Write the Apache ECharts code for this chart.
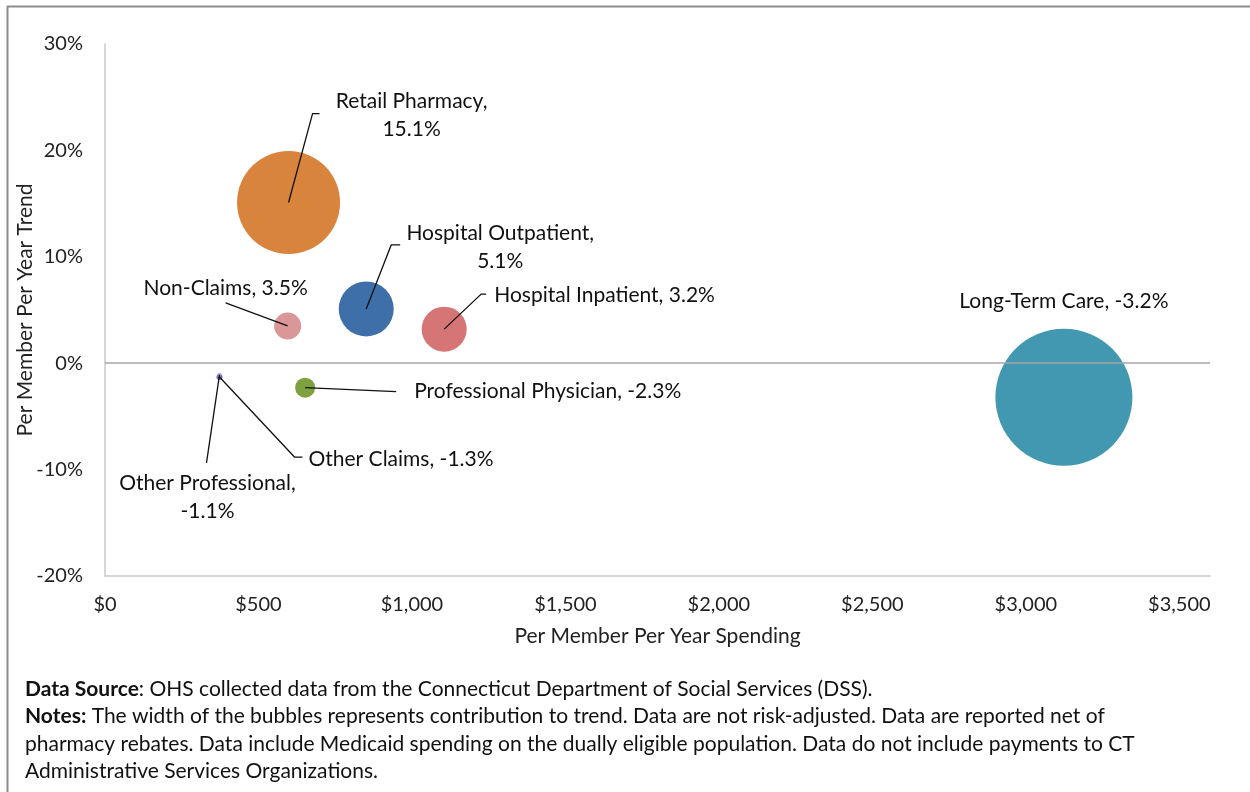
<!DOCTYPE html>
<html>
<head>
<meta charset="utf-8">
<script src="https://cdn.jsdelivr.net/npm/echarts@6/dist/echarts.min.js"></script>
<style>
  html, body { margin: 0; padding: 0; background: #fff; }
  #main { width: 1250px; height: 792px; }
</style>
</head>
<body>
<div id="main"></div>
<script>
// 数据
var categories = ["Retail Pharmacy", "Hospital Outpatient", "Hospital Inpatient", "Non-Claims",
  "Professional Physician", "Other Claims", "Other Professional", "Long-Term Care"];
var spending = [598, 851, 1105, 595, 652, 373, 373, 3124];      // PMPY spending ($)
var trend = [15.1, 5.1, 3.2, 3.5, -2.3, -1.3, -1.1, -3.2];       // PMPY trend (%)
var contribution = [103, 55, 45, 27, 20, 6, 4, 137];             // relative bubble width
var xTicks = [0, 500, 1000, 1500, 2000, 2500, 3000, 3500];
var yTicks = [-20, -10, 0, 10, 20, 30];

var colors = ["#d9843d", "#3e6fa9", "#d57575", "#d99797", "#7fa03f", "#8064a2", "#8a9fd0", "#4298b0"];
var FONT = "Lato";

// label placement relative to the bubble centre (px)
var labelLayout = {
  "Retail Pharmacy": { line: [[24, -89], [31, -89]], text: [123, -87], align: "center", two: true },
  "Hospital Outpatient": { line: [[25, -64], [34, -64]], text: [134, -62], align: "center", two: true },
  "Hospital Inpatient": { line: [[37, -35], [42, -35]], text: [50, -34], align: "left" },
  "Non-Claims": { line: [[-62, -23]], text: [-62, -38], align: "center" },
  "Professional Physician": { line: [[91, 4]], text: [109, 4], align: "left" },
  "Other Claims": { line: [[75, 80], [83, 80]], text: [89, 82], align: "left" },
  "Other Professional": { line: [[-13, 88]], text: [-12, 122], align: "center", two: true },
  "Long-Term Care": { line: [], text: [0, -96], align: "center" }
};

var bubbleData = categories.map(function (c, i) {
  return { name: c, value: [spending[i], trend[i], contribution[i]], itemStyle: { color: colors[i] } };
});
var labelData = categories.map(function (c, i) {
  return { name: c, value: [spending[i], trend[i]] };
});

var myChart = echarts.init(document.getElementById("main"));
var option = {
  animation: false,
  textStyle: { fontFamily: FONT },
  grid: { left: 105, right: 40, top: 44, bottom: 216 },
  xAxis: {
    type: "value", min: xTicks[0], max: 3600, interval: 500,
    name: "Per Member Per Year Spending", nameLocation: "middle", nameGap: 50, nameMoveOverlap: false,
    nameTextStyle: { fontSize: 21, color: "#222", fontFamily: FONT },
    axisLine: { show: true, onZero: false, lineStyle: { color: "#c8c8c8", width: 1.5 } },
    axisTick: { show: false },
    splitLine: { show: false },
    axisLabel: {
      fontSize: 20, color: "#222", margin: 19, fontFamily: FONT, showMaxLabel: false,
      formatter: function (v) { return xTicks.indexOf(v) >= 0 ? "$" + v.toLocaleString("en-US") : ""; }
    }
  },
  yAxis: {
    type: "value", min: yTicks[0], max: yTicks[yTicks.length - 1], interval: 10,
    name: "Per Member Per Year Trend", nameLocation: "middle", nameGap: 69, nameRotate: 90, nameMoveOverlap: false,
    nameTextStyle: { fontSize: 21, color: "#222", fontFamily: FONT },
    axisLine: { show: true, lineStyle: { color: "#c8c8c8", width: 1.5 } },
    axisTick: { show: false },
    splitLine: { show: false },
    axisLabel: { fontSize: 20, color: "#222", margin: 22, fontFamily: FONT, formatter: "{value}%" }
  },
  graphic: [
    { type: "line", shape: { x1: 7, y1: 6.5, x2: 1250, y2: 6.5 }, style: { stroke: "#8c8c8c", lineWidth: 2 } },
    { type: "line", shape: { x1: 7.5, y1: 6, x2: 7.5, y2: 792 }, style: { stroke: "#8c8c8c", lineWidth: 2 } },
    {
      type: "text", left: 25, top: 675,
      style: {
        text: "{b|Data Source}: OHS collected data from the Connecticut Department of Social Services (DSS).\n" +
          "{b|Notes:} The width of the bubbles represents contribution to trend. Data are not risk-adjusted. Data are reported net of\n" +
          "pharmacy rebates. Data include Medicaid spending on the dually eligible population. Data do not include payments to CT\n" +
          "Administrative Services Organizations.",
        font: "21px " + FONT, fill: "#111", lineHeight: 27.5,
        rich: { b: { fontWeight: "bold", fontSize: 21, fontFamily: FONT, fill: "#111", lineHeight: 27.5 } }
      }
    }
  ],
  series: [
    {
      type: "scatter",
      data: bubbleData,
      symbolSize: function (v) { return v[2]; },
      itemStyle: { opacity: 1 },
      markLine: {
        silent: true, symbol: "none", label: { show: false },
        lineStyle: { color: "#a6a6a6", type: "solid", width: 1.5 },
        data: [{ yAxis: 0 }]
      },
      z: 2
    },
    {
      type: "custom",
      data: labelData,
      z: 5,
      renderItem: function (params, api) {
        var name = categories[params.dataIndex];
        var lay = labelLayout[name];
        var p = api.coord([api.value(0), api.value(1)]);
        var val = trend[params.dataIndex].toFixed(1) + "%";
        var txt = lay.two ? name + ",\n" + val : name + ", " + val;
        var children = [];
        if (lay.line.length) {
          var pts = [[p[0], p[1]]].concat(lay.line.map(function (o) { return [p[0] + o[0], p[1] + o[1]]; }));
          children.push({ type: "polyline", shape: { points: pts }, style: { stroke: "#111", lineWidth: 1.3, fill: null } });
        }
        children.push({
          type: "text",
          x: p[0] + lay.text[0], y: p[1] + lay.text[1],
          style: {
            text: txt, font: "21px " + FONT, fill: "#111",
            align: lay.align, verticalAlign: "middle", lineHeight: 28
          }
        });
        return { type: "group", children: children };
      }
    }
  ]
};
myChart.setOption(option);
</script>
</body>
</html>
